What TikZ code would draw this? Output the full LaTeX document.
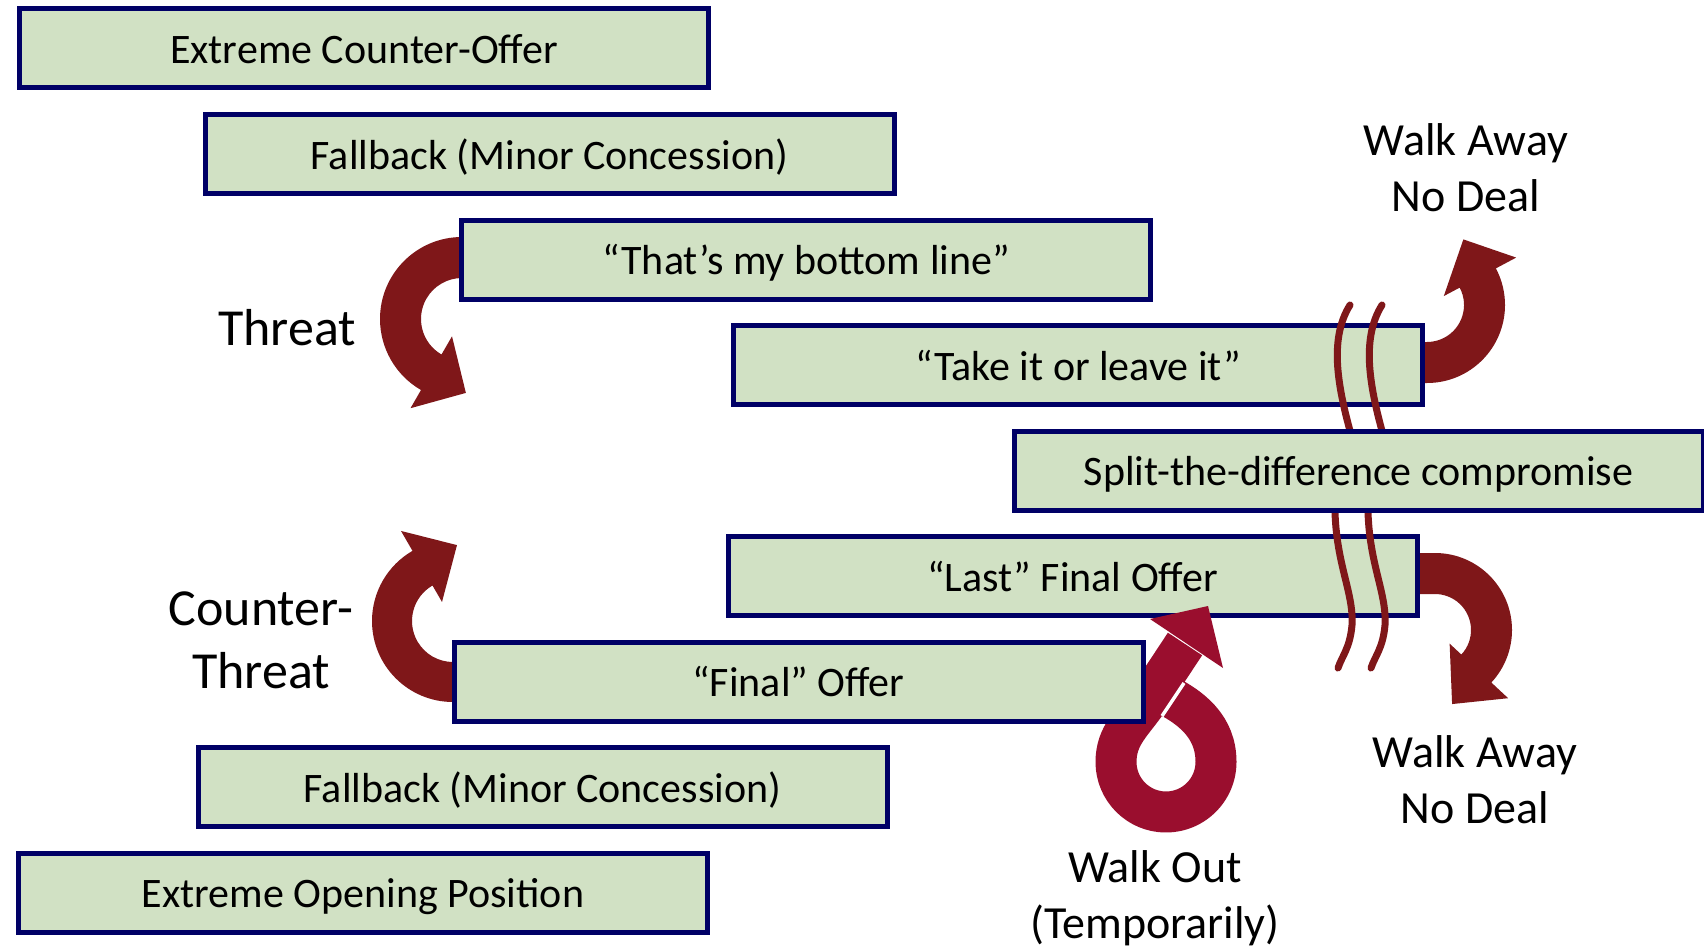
\documentclass[tikz,border=0pt]{standalone}
\usepackage{fontspec}
\setmainfont{Carlito}
\definecolor{boxgreen}{RGB}{209,225,196}
\definecolor{navy}{RGB}{0,0,102}
\definecolor{arrowred}{RGB}{127,23,25}
\definecolor{loopred}{RGB}{154,14,46}
\begin{document}
\begin{tikzpicture}[x=1pt,y=1pt,
  stepbox/.style={draw=navy, fill=boxgreen, line width=5pt, minimum width=689pt,
    minimum height=79pt, inner sep=0pt, text height=40pt, text depth=10pt,
    font=\fontsize{42}{50}\selectfont},
  textlbl/.style={align=center, inner sep=0pt, font=\fontsize{46}{56}\selectfont},
  biglbl/.style={align=center, inner sep=0pt, font=\fontsize{52}{63}\selectfont},
  wave/.style={draw=arrowred, line width=7pt, line cap=round},
  bigarrow/.style={fill=arrowred},
]
\fill[white] (0,0) rectangle (1704,-947);
\useasboundingbox (0,0) rectangle (1704,-947);

% Threat arrow
\begin{scope}[shift={(462,-319)}]
\fill[bigarrow] (5,82) -- (90:82) arc[start angle=90,end angle=240,radius=82]
  -- (240:103) -- (273:74) -- (240:20) -- (240:41)
  arc[start angle=240,end angle=90,radius=41] -- (5,41) -- cycle;
\end{scope}
% Counter-threat arrow
\begin{scope}[shift={(453,-621)}]
\fill[bigarrow] (5,-81) -- (270:81) arc[start angle=270,end angle=120,radius=81]
  -- (120:104) -- (87:76) -- (120:22) -- (120:41)
  arc[start angle=120,end angle=270,radius=41] -- (5,-41) -- cycle;
\end{scope}
% Walk away (top)
\begin{scope}[shift={(1427,-305)}]
\fill[bigarrow] (-5,-78) -- (-90:78) arc[start angle=-90,end angle=28,radius=78]
  -- (28:101) -- (61:75) -- (28:19) -- (28:37)
  arc[start angle=28,end angle=-90,radius=37] -- (-5,-37) -- cycle;
\end{scope}
% Walk away (bottom)
\begin{scope}[shift={(1435,-630)}]
\fill[bigarrow] (-20,77) -- (90:77) arc[start angle=90,end angle=-43,radius=77]
  -- (-43:100) -- (-77:76) -- (-43:20) -- (-43:36)
  arc[start angle=-43,end angle=90,radius=36] -- (-20,36) -- cycle;
\end{scope}

% Boxes
\node[stepbox] (b1) at (364,-48.5) {Extreme Counter-Offer};
\node[stepbox] (b2) at (549.5,-154) {Fallback (Minor Concession)};
\node[stepbox] (b3) at (806,-259.5) {“That’s my bottom line”};
\node[stepbox] (b4) at (1078,-365) {“Take it or leave it”};
\node[stepbox] (b6) at (1072.5,-576) {“Last” Final Offer};

% wavy lines
\draw[wave] (1350,-305) .. controls (1328,-340) and (1338,-390) .. (1354,-445);
\draw[wave] (1382,-305) .. controls (1360,-340) and (1370,-390) .. (1386,-445);
\draw[wave] (1335,-495) .. controls (1333,-560) and (1354,-590) .. (1352,-625)
  .. controls (1350,-648) and (1342,-656) .. (1338,-668);
\draw[wave] (1368,-495) .. controls (1366,-560) and (1387,-590) .. (1385,-625)
  .. controls (1383,-648) and (1375,-656) .. (1371,-668);

\node[stepbox] (b5) at (1358.5,-470.5) {Split-the-difference compromise};

% Walk out loop
\draw[loopred, line width=41pt, line join=round]
  (1160,-692) to[out=-25,in=90] (1216,-762)
  arc[start angle=0,end angle=-180,radius=50]
  to[out=90,in=236.5] (1148,-700) -- (1185,-644);
\fill[loopred] (1150,-619) -- (1208,-606) -- (1223,-668) -- cycle;
\draw[white, line width=3.5pt] (1162,-716) -- (1184,-683);

\node[stepbox] (b7) at (798.5,-681.5) {“Final” Offer};
\node[stepbox] (b8) at (542.5,-787) {Fallback (Minor Concession)};
\node[stepbox] (b9) at (363,-892.5) {Extreme Opening Position};

% labels
\node[biglbl] (threat) at (287,-328) {Threat};
\node[biglbl] (counter) at (261,-640) {Counter-\\Threat};
\node[textlbl] (wa1) at (1466,-168) {Walk Away\\No Deal};
\node[textlbl] (wa2) at (1475,-780) {Walk Away\\No Deal};
\node[textlbl] (wo) at (1155,-898) {Walk Out\\(Temporarily)};
\end{tikzpicture}
\end{document}
